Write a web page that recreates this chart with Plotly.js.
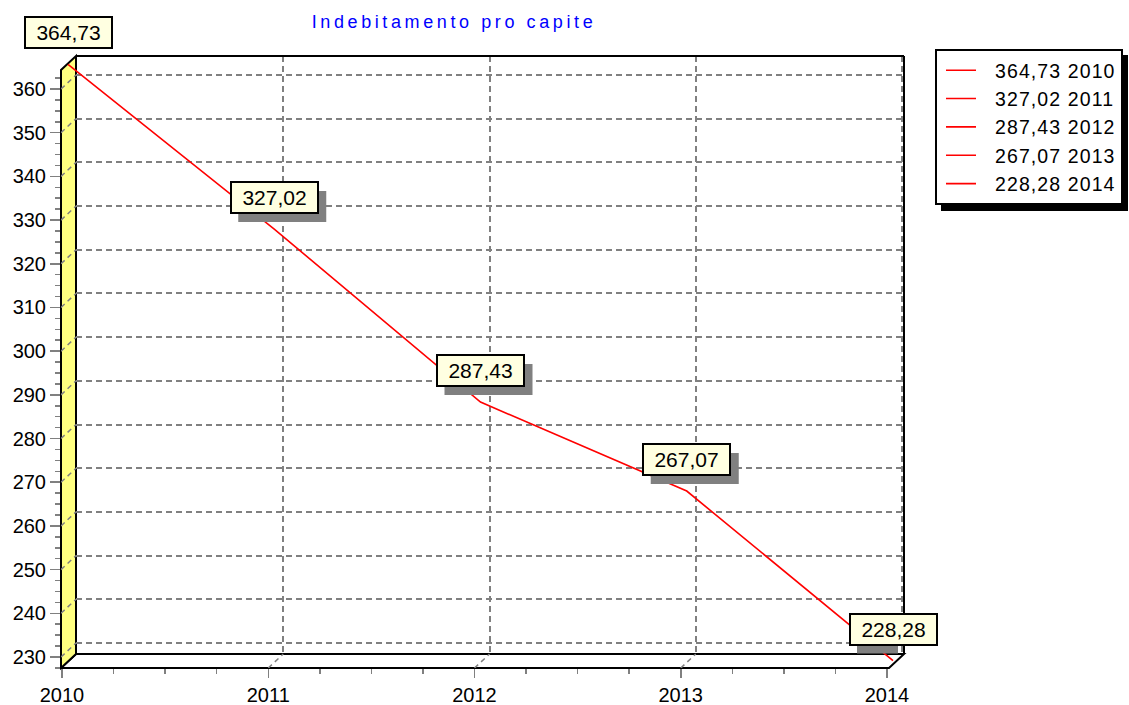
<!DOCTYPE html>
<html>
<head>
<meta charset="utf-8">
<script src="https://cdn.plot.ly/plotly-3.0.1.min.js"></script>
<style>
  html, body { margin: 0; padding: 0; background: #fff; }
  #chart { width: 1129px; height: 705px; }
  .gtitle { letter-spacing: 3.6px; }
  .legendtext { letter-spacing: 1.1px; }
  .legend .legendlines path { stroke-dasharray: 0 4 30 200; }
</style>
</head>
<body>
<div id="chart"></div>
<script>
// ---- data ----
const years = [2010, 2011, 2012, 2013, 2014];
const values = [364.73, 327.02, 287.43, 267.07, 228.28];
const yearLabels = ['2010', '2011', '2012', '2013', '2014'];
const yTickVals = [230, 240, 250, 260, 270, 280, 290, 300, 310, 320, 330, 340, 350, 360];
const chartTitle = 'Indebitamento pro capite';

const valueLabels = values.map(v => v.toFixed(2).replace('.', ','));

// ---- layout geometry ----
const W = 1129, H = 705;
const L = 61, T = 56, PW = 843, PH = 612;   // whole pseudo-3D box
const DX = 15, DY = 14;                      // depth offset
const xr = [2009.99515, 2014.0097];
const yr = [227.482, 364.35];
const kx = (PW - DX) / (xr[1] - xr[0]);
const ky = (PH - DY) / (yr[1] - yr[0]);
const FONT = '"Liberation Sans", Arial, Helvetica, sans-serif';

function px(x) { return (x - L) / PW; }
function py(y) { return (T + PH - y) / PH; }

function axesFor(ox, oy, pad) {
  return {
    xd: [(ox - pad) / PW, (PW - DX + ox + pad) / PW],
    xr: [xr[0] - pad / kx, xr[1] + pad / kx],
    yd: [(oy - pad) / PH, (PH - DY + oy + pad) / PH],
    yr: [yr[0] - pad / ky, yr[1] + pad / ky]
  };
}
const front = axesFor(0, 0, 0);
const back = axesFor(DX, DY, 0);
const mid = axesFor(6, 4, 3);

const GRID = '#808080';

// ---- traces ----
const traces = [{
  x: years, y: values, xaxis: 'x3', yaxis: 'y3',
  type: 'scatter', mode: 'lines',
  line: { color: '#ff0000', width: 1.6 },
  showlegend: false, cliponaxis: false, hoverinfo: 'skip'
}];
// legend entries (single points: no visible line, only a legend item)
years.forEach((yv, i) => {
  traces.push({
    x: [yv], y: [values[i]], xaxis: 'x2', yaxis: 'y2',
    type: 'scatter', mode: 'lines',
    line: { color: '#ff0000', width: 1.6 },
    name: valueLabels[i] + ' ' + yearLabels[i],
    hoverinfo: 'skip'
  });
});

// ---- shapes ----
const shapes = [];
function poly(pts, fill, layer) {
  let d = pts.map((p, i) => (i ? 'L' : 'M') + px(p[0]) + ',' + py(p[1])).join(' ') + ' Z';
  shapes.push({ type: 'path', xref: 'paper', yref: 'paper', path: d,
    fillcolor: fill, line: { color: '#000', width: 2 }, layer: layer || 'below' });
}
function seg(a, b, color, width, dash, layer) {
  shapes.push({ type: 'line', xref: 'paper', yref: 'paper',
    x0: px(a[0]), y0: py(a[1]), x1: px(b[0]), y1: py(b[1]),
    line: { color: color, width: width, dash: dash || 'solid' }, layer: layer || 'below' });
}
const fL = L, fR = L + PW - DX, fB = T + PH, fT = T + DY;
// floor
poly([[fL, fB], [fR, fB], [fR + DX, fB - DY], [fL + DX, fB - DY]], '#ffffff', 'below');
// left wall
poly([[fL, fB], [fL, fT], [fL + DX, fT - DY], [fL + DX, fB - DY]], '#ffff80', 'below');

// floor depth grid lines (data anchored)
years.slice(1, -1).forEach(yv => {
  shapes.push({ type: 'line', xref: 'x', yref: 'y',
    xsizemode: 'pixel', xanchor: yv, x0: 0, x1: DX,
    ysizemode: 'pixel', yanchor: yr[0], y0: 0, y1: DY,
    line: { color: GRID, width: 1.5, dash: '5px,4px' }, layer: 'between' });
});
// wall depth grid lines
yTickVals.forEach(v => {
  shapes.push({ type: 'line', xref: 'x', yref: 'y',
    xsizemode: 'pixel', xanchor: xr[0], x0: 0, x1: DX,
    ysizemode: 'pixel', yanchor: v, y0: 0, y1: DY,
    line: { color: GRID, width: 1.5, dash: '5px,4px' }, layer: 'between' });
});
// back wall top and right edges
seg([fL + DX, T], [L + PW, T], '#000', 2, 'solid', 'above');
seg([L + PW, T], [L + PW, fB - DY], '#000', 2, 'solid', 'above');

// label shadows
const BW = 88, BH = 31, GAP = 15, SH = 8;
years.forEach((yv, i) => {
  shapes.push({ type: 'rect', xref: 'x3', yref: 'y3',
    xsizemode: 'pixel', xanchor: yv, x0: -BW / 2 + SH, x1: BW / 2 + SH,
    ysizemode: 'pixel', yanchor: values[i], y0: GAP - SH, y1: GAP + BH - SH,
    fillcolor: '#808080', line: { width: 0 }, layer: 'above' });
});

// legend shadow (resized to the legend box after drawing)
const LEG_X = 935, LEG_Y = 49, LSH = 6;
const legendShadowIndex = shapes.length;
shapes.push({ type: 'rect', xref: 'paper', yref: 'paper',
  x0: px(LEG_X + LSH), x1: px(1128), y0: py(208), y1: py(LEG_Y + LSH),
  fillcolor: '#000', line: { width: 0 }, layer: 'above' });

// ---- annotations ----
const annotations = years.map((yv, i) => ({
  xref: 'x3', yref: 'y3', x: yv, y: values[i],
  text: valueLabels[i], showarrow: false,
  xanchor: 'center', yanchor: 'bottom', yshift: GAP,
  width: 80, height: 24, borderpad: 2.5,
  bgcolor: '#ffffe1', bordercolor: '#000', borderwidth: 2,
  font: { family: FONT, size: 21, color: '#000' }
}));

const baseAxis = { showgrid: false, zeroline: false, showline: false, fixedrange: true };

const layout = {
  width: W, height: H,
  margin: { l: L, r: W - L - PW, t: T, b: H - T - PH, pad: 0, autoexpand: false },
  paper_bgcolor: '#ffffff', plot_bgcolor: 'rgba(0,0,0,0)',
  font: { family: FONT, size: 20, color: '#000' },
  title: {
    text: chartTitle, xref: 'container', yref: 'container',
    x: 454 / W, xanchor: 'center', y: 1 - 22 / H, yanchor: 'middle',
    font: { family: FONT, size: 18, color: '#0000ff' }
  },
  xaxis: Object.assign({}, baseAxis, {
    domain: front.xd, range: front.xr, anchor: 'y',
    tickmode: 'array', tickvals: years, ticktext: yearLabels,
    ticks: 'outside', ticklen: 9, tickwidth: 1.5, tickcolor: GRID,
    tickfont: { size: 20 },
    minor: { dtick: 0.25, tick0: 2010, ticks: 'outside', ticklen: 5, tickwidth: 1.5, tickcolor: GRID, showgrid: false }
  }),
  yaxis: Object.assign({}, baseAxis, {
    domain: front.yd, range: front.yr, anchor: 'x',
    tickmode: 'array', tickvals: yTickVals,
    ticks: 'outside', ticklen: 10, tickwidth: 1.5, tickcolor: GRID,
    tickfont: { size: 20 },
    minor: { dtick: 2.5, tick0: 230, ticks: 'outside', ticklen: 5, tickwidth: 1.5, tickcolor: GRID, showgrid: false }
  }),
  xaxis2: Object.assign({}, baseAxis, {
    domain: back.xd, range: back.xr, anchor: 'y2',
    tickmode: 'array', tickvals: years, showticklabels: false, ticks: '',
    showgrid: true, gridcolor: GRID, gridwidth: 2, griddash: '6px,4px'
  }),
  yaxis2: Object.assign({}, baseAxis, {
    domain: back.yd, range: back.yr, anchor: 'x2',
    tickmode: 'array', tickvals: yTickVals, showticklabels: false, ticks: '',
    showgrid: true, gridcolor: GRID, gridwidth: 2, griddash: '6px,4px'
  }),
  xaxis3: Object.assign({}, baseAxis, {
    domain: mid.xd, range: mid.xr, anchor: 'y3', visible: false
  }),
  yaxis3: Object.assign({}, baseAxis, {
    domain: mid.yd, range: mid.yr, anchor: 'x3', visible: false
  }),
  showlegend: true,
  legend: {
    x: px(LEG_X), y: py(LEG_Y), xanchor: 'left', yanchor: 'top',
    xref: 'paper', yref: 'paper',
    bgcolor: '#ffffff', bordercolor: '#000', borderwidth: 2,
    font: { family: FONT, size: 19.5, color: '#000' },
    traceorder: 'normal', itemwidth: 48
  },
  shapes: shapes,
  annotations: annotations
};

const gd = document.getElementById('chart');
Plotly.newPlot(gd, traces, layout, { displayModeBar: false, staticPlot: true }).then(() => {
  const lg = gd._fullLayout.legend;
  if (lg && lg._width && lg._height) {
    const upd = {};
    const p = 'shapes[' + legendShadowIndex + '].';
    upd[p + 'x0'] = px(LEG_X + LSH);
    upd[p + 'x1'] = px(LEG_X + lg._width + LSH - 1);
    upd[p + 'y1'] = py(LEG_Y + LSH);
    upd[p + 'y0'] = py(LEG_Y + lg._height + LSH);
    return Plotly.relayout(gd, upd);
  }
});
</script>
</body>
</html>
